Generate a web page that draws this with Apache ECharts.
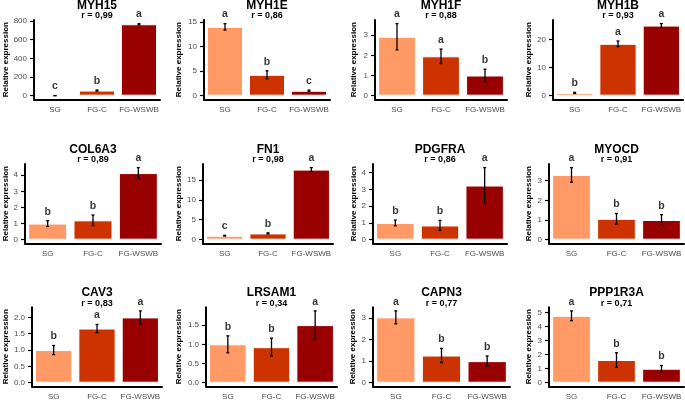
<!DOCTYPE html>
<html>
<head>
<meta charset="utf-8">
<title>Relative expression</title>
<script src="https://cdn.jsdelivr.net/npm/echarts@6/dist/echarts.min.js"></script>
<style>
  html, body { margin: 0; padding: 0; background: #fff; }
  #chart { width: 685px; height: 401px; }
</style>
</head>
<body>
<div id="chart"></div>
<script>
// groups and data
var groups = ['SG', 'FG-C', 'FG-WSWB'];
var groupColors = ['#FF9966', '#CC3300', '#990000'];

var genes = ['MYH15', 'MYH1E', 'MYH1F', 'MYH1B',
             'COL6A3', 'FN1', 'PDGFRA', 'MYOCD',
             'CAV3', 'LRSAM1', 'CAPN3', 'PPP1R3A'];
var rLabels = ['r = 0,99', 'r = 0,86', 'r = 0,88', 'r = 0,93',
               'r = 0,89', 'r = 0,98', 'r = 0,86', 'r = 0,91',
               'r = 0,83', 'r = 0,34', 'r = 0,77', 'r = 0,71'];
var means = [
  [1, 55, 765], [14, 4.25, 1], [2.92, 1.95, 1], [1, 18.5, 25],
  [1, 1.2, 4.13], [1, 1.57, 17.56], [1, 0.85, 3.23], [3.29, 1.06, 1],
  [1, 1.66, 2], [1, 0.925, 1.5], [3.03, 1.26, 1], [4.78, 1.62, 1]
];
var errors = [
  [0.5, 6, 7], [0.65, 0.8, 0.15], [0.65, 0.36, 0.31], [0.2, 1, 0.7],
  [0.18, 0.33, 0.34], [0.1, 0.15, 0.5], [0.17, 0.3, 1.07], [0.37, 0.27, 0.27],
  [0.14, 0.125, 0.2], [0.22, 0.235, 0.37], [0.3, 0.33, 0.24], [0.35, 0.52, 0.23]
];
var letters = [
  ['c', 'b', 'a'], ['a', 'b', 'c'], ['a', 'a', 'b'], ['b', 'a', 'a'],
  ['b', 'b', 'a'], ['c', 'b', 'a'], ['b', 'b', 'a'], ['a', 'b', 'b'],
  ['b', 'a', 'a'], ['b', 'b', 'a'], ['a', 'b', 'b'], ['a', 'b', 'b']
];
var yTicks = [
  [0, 200, 400, 600, 800], [0, 5, 10, 15], [0, 1, 2, 3], [0, 10, 20],
  [0, 1, 2, 3, 4], [0, 5, 10, 15], [0, 1, 2, 3, 4], [0, 1, 2, 3],
  [0, 0.5, 1, 1.5, 2], [0, 0.5, 1, 1.5], [0, 1, 2, 3], [0, 1, 2, 3, 4, 5]
];
var tickDecimals = [0, 0, 0, 0, 0, 0, 0, 0, 1, 1, 0, 0];

// panel boxes: [left, right, top, bottom] in px
var panels = [
  [34, 160, 20, 99.3], [204, 330, 20, 99.3], [375, 507, 20, 99.3], [553, 683, 20, 99.3],
  [25, 161, 164, 243.3], [203, 333, 164, 243.3], [373, 507, 164, 243.3], [549, 684, 164, 243.3],
  [32, 162, 307.3, 386.3], [206, 337, 307.3, 386.3], [373, 510, 307.3, 386.3], [549, 684, 307.3, 386.3]
];
var nameOffsets = [29, 26, 22, 24.5, 11, 25, 20, 21, 17.7, 27.7, 20.7, 21];
var titleRows = [[6, 15.5], [150, 160], [293, 303.3]];

var FONT = '"Liberation Sans", Arial, sans-serif';

var grids = [], xAxes = [], yAxes = [], series = [], graphics = [];

genes.forEach(function (gene, i) {
  var p = panels[i];
  var top = 0;
  means[i].forEach(function (m, j) { top = Math.max(top, m + errors[i][j]); });

  grids.push({ left: p[0], top: p[2], width: p[1] - p[0], height: p[3] - p[2] });

  xAxes.push({
    gridIndex: i, type: 'category', data: groups,
    axisLine: { onZero: false, lineStyle: { color: '#000', width: 2 } },
    axisTick: { alignWithLabel: true, length: 4, lineStyle: { color: '#000', width: 1.2 } },
    axisLabel: { interval: 0, fontSize: 8, color: '#4d4d4d', margin: 6, fontFamily: FONT }
  });

  yAxes.push({
    gridIndex: i, type: 'value',
    min: -0.05 * top, max: 1.05 * top,
    name: 'Relative expression', nameLocation: 'middle', nameGap: nameOffsets[i] - 4.5,
    nameTextStyle: { fontSize: 8, fontWeight: 'bold', color: '#000', fontFamily: FONT },
    axisLine: { show: true, onZero: false, lineStyle: { color: '#000', width: 2 } },
    axisTick: { show: true, length: 4, customValues: yTicks[i], lineStyle: { color: '#000', width: 1.2 } },
    axisLabel: {
      customValues: yTicks[i], fontSize: 8, color: '#4d4d4d', margin: 7, fontFamily: FONT,
      formatter: function (v) { return v.toFixed(tickDecimals[i]); }
    },
    splitLine: { show: false }
  });

  series.push({
    type: 'bar', xAxisIndex: i, yAxisIndex: i, barWidth: '86%',
    itemStyle: { borderColor: '#ffffff', borderWidth: 1 },
    data: means[i].map(function (v, j) { return { value: v, itemStyle: { color: groupColors[j] } }; })
  });

  series.push({
    type: 'custom', xAxisIndex: i, yAxisIndex: i, z: 5,
    data: means[i].map(function (v, j) { return [j, v - errors[i][j], v + errors[i][j]]; }),
    encode: { x: 0, y: [1, 2] },
    renderItem: function (params, api) {
      var lo = api.coord([api.value(0), api.value(1)]);
      var hi = api.coord([api.value(0), api.value(2)]);
      var st = { stroke: '#000', lineWidth: 1.3 };
      return {
        type: 'group',
        children: [
          { type: 'line', shape: { x1: lo[0], y1: lo[1], x2: hi[0], y2: hi[1] }, style: st },
          { type: 'line', shape: { x1: hi[0] - 1.5, y1: hi[1], x2: hi[0] + 1.5, y2: hi[1] }, style: st },
          { type: 'line', shape: { x1: lo[0] - 1.5, y1: lo[1], x2: lo[0] + 1.5, y2: lo[1] }, style: st }
        ]
      };
    }
  });

  series.push({
    type: 'scatter', xAxisIndex: i, yAxisIndex: i, z: 6,
    symbolSize: 1, itemStyle: { color: 'transparent' },
    data: means[i].map(function (v, j) { return [j, v + errors[i][j]]; }),
    label: {
      show: true, position: 'top', distance: 3,
      fontSize: 10.5, fontWeight: 'bold', color: '#000', fontFamily: FONT,
      formatter: function (d) { return letters[i][d.dataIndex]; }
    }
  });

  var row = titleRows[Math.floor(i / 4)];
  var cx = (p[0] + p[1]) / 2;
  graphics.push({
    type: 'text', x: cx, y: row[0],
    style: { text: gene, align: 'center', verticalAlign: 'middle', fill: '#000',
             fontSize: 12, fontWeight: 'bold', fontFamily: FONT }
  });
  graphics.push({
    type: 'text', x: cx, y: row[1],
    style: { text: rLabels[i], align: 'center', verticalAlign: 'middle', fill: '#000',
             fontSize: 9, fontWeight: 'bold', fontFamily: FONT }
  });
});

var chart = echarts.init(document.getElementById('chart'));
chart.setOption({
  animation: false,
  backgroundColor: '#fff',
  grid: grids,
  xAxis: xAxes,
  yAxis: yAxes,
  series: series,
  graphic: graphics
});
</script>
</body>
</html>
